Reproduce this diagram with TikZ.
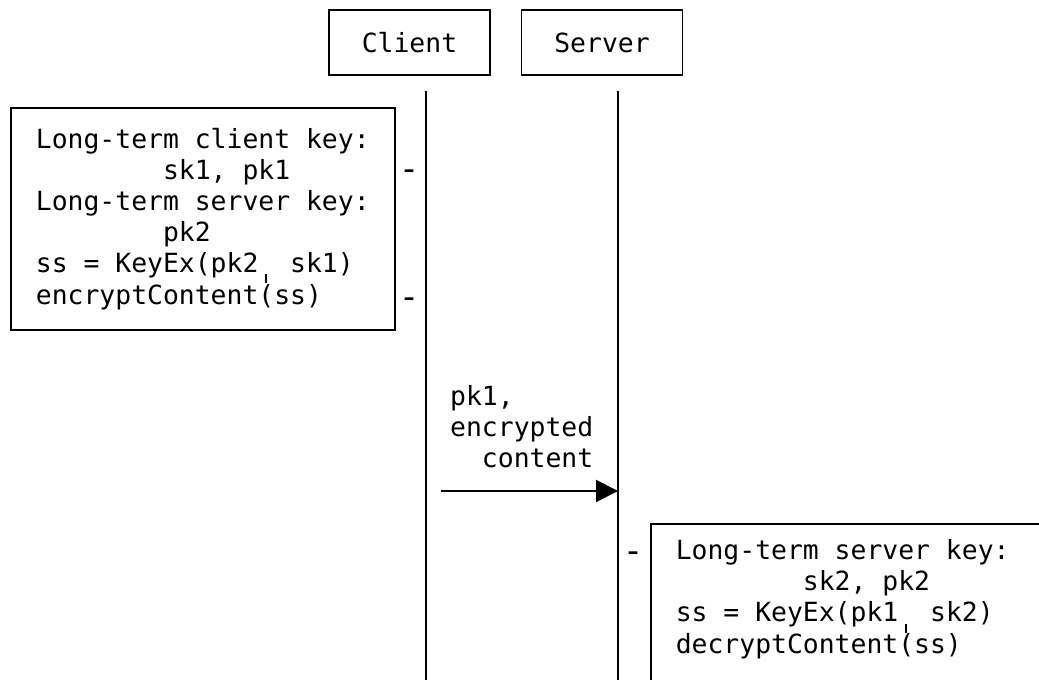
\documentclass[tikz,border=0pt]{standalone}
\usepackage{fontspec}
\setmainfont{DejaVu Sans Mono}
\usetikzlibrary{arrows.meta}
\newcommand\lowtick{\makebox[0.602em]{\rule[-11pt]{2pt}{9pt}}}
\newcommand\monofont{\fontsize{26.4}{31}\selectfont}
\newcommand\spacefix{\frenchspacing\spaceskip=0.602em\relax\xspaceskip=0.602em\relax}
\begin{document}
\begin{tikzpicture}[x=1pt,y=-1pt,
  every node/.style={font=\monofont},
  hdr/.style={draw, line width=1.6pt, minimum width=161pt, minimum height=65pt, inner sep=0pt},
  notebox/.style={draw, line width=1.6pt, align=left},
  life/.style={line width=2pt},
  msgarrow/.style={line width=2pt, -{Triangle[length=22pt,width=22pt]}},
  tick/.style={anchor=base, inner sep=0pt, font=\fontsize{34}{34}\selectfont}]
\useasboundingbox (0,0) rectangle (1039,680);
\fill[white] (0,0) rectangle (1039,680);
\clip (0,0) rectangle (1039,680);
% headers
\node[hdr] (client) at (409.5,42.5) {Client};
\node[hdr] (server) at (602,42.5) {Server};
% lifelines
\coordinate (ctop) at (426,91);
\coordinate (cbot) at (426,690);
\coordinate (stop) at (618,91);
\coordinate (sbot) at (618,690);
\draw[life] (ctop) -- (cbot);
\draw[life] (stop) -- (sbot);
% client note
\node[notebox, anchor=north west, inner xsep=0pt, minimum width=384pt, minimum height=222pt] (cnote) at (10,107) {\spacefix Long-term client key:\\
\spacefix\phantom{xxxxxxxx}sk1, pk1\\
\spacefix Long-term server key:\\
\phantom{xxxxxxxx}pk2\\
\spacefix ss = KeyEx(pk2\lowtick{} sk1)\\
encryptContent(ss)};
\node[tick] (t1) at (409,180.5) {-};
\node[tick] (t2) at (409,308.5) {-};
% message
\node[anchor=north west, align=left, inner sep=0pt] (msg) at (450,385) {\spacefix pk1,\\encrypted\\\phantom{xx}content};
\coordinate (mfrom) at (441,491);
\coordinate (mto) at (618,491);
\draw[msgarrow] (mfrom) -- (mto);
% server note
\node[tick] (t3) at (633,562.5) {-};
\node[notebox, anchor=north west, inner xsep=25pt, inner ysep=16pt, text width=400pt] (snote) at (650,523) {\spacefix Long-term server key:\\
\phantom{xxxxxxxx}sk2, pk2\\
ss = KeyEx(pk1\lowtick{} sk2)\\
decryptContent(ss)\rule[-60pt]{0pt}{1pt}};
\end{tikzpicture}
\end{document}
